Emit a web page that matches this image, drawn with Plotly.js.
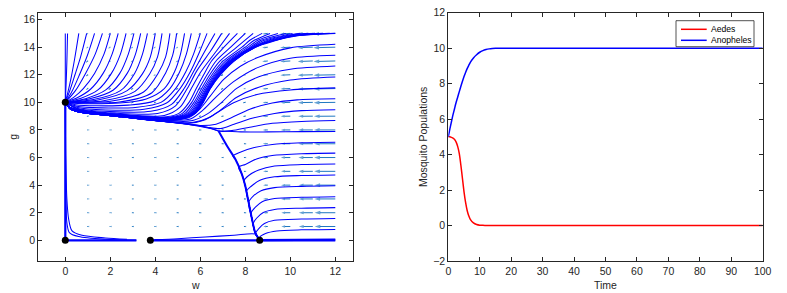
<!DOCTYPE html>
<html><head><meta charset="utf-8">
<script src="https://cdn.plot.ly/plotly-3.0.1.min.js"></script>
<style>html,body{margin:0;padding:0;background:#fff;}#plot{width:787px;height:293px;}</style>
</head><body><div id="plot"></div>
<script>
// ---------------- Phase portrait data (w, g) ----------------
const equilW = [0, 0, 3.78, 8.64];
const equilG = [0, 10, 0, 0];

// top-edge trajectories flowing to (0,10) from above
const familyA = [
  [[0,15],[0,10]],
  [[0.1,15],[0.07,13],[0.04,11.5],[0.01,10.4],[0,10]],
  [[0.6,15],[0.42,13.2],[0.26,11.8],[0.11,10.7],[0,10]],
  [[0.95,15],[0.68,13.3],[0.43,12],[0.2,10.85],[0,10]],
  [[1.3,15],[0.98,13.4],[0.63,12],[0.3,10.8],[0,10]],
  [[1.65,15],[1.33,13.5],[0.9,12.1],[0.45,10.85],[0,10]],
  [[2.0,15],[1.72,13.5],[1.3,12.1],[0.8,11],[0.4,10.4],[0,10]],
  [[2.35,15],[2.08,13.5],[1.68,12.1],[1.12,10.95],[0.55,10.35],[0,10]],
  [[2.7,15],[2.45,13.5],[2.05,12.1],[1.45,10.9],[0.7,10.3],[0,10]],
  [[3.05,15],[2.8,13.5],[2.42,12.1],[1.8,10.9],[0.9,10.27],[0,10]],
  [[3.35,15],[3.12,13.5],[2.75,12.1],[2.12,10.88],[1.05,10.24],[0,10]],
  [[3.65,15],[3.43,13.5],[3.08,12.1],[2.45,10.85],[1.25,10.2],[0,10]],
  [[4.0,15],[3.78,13.3],[3.42,12.05],[2.75,10.85],[1.45,10.17],[0,10]],
  [[4.3,15],[4.1,13.3],[3.75,12.05],[3.1,10.8],[1.7,10.12],[0,10]],
  [[4.65,15],[4.46,13.3],[4.12,12.1],[3.48,10.75],[2.0,10.08],[0.5,10.0],[0,10]],
  [[4.95,15],[4.77,13.4],[4.45,12.1],[3.85,10.7],[2.4,10.02],[0.6,9.97],[0,10]]
];
// diagonal top-edge trajectories (left of the S bundle)
const familyDiag = [
  [[5.3,15],[5.12,13.5],[4.85,12.2],[4.4,11],[3.6,10.25],[2.4,9.95],[1.2,9.9],[0.4,9.93],[0,10]],
  [[5.6,15],[5.38,13.5],[5.08,12.2],[4.65,11],[3.95,10.1],[2.8,9.8],[1.4,9.75],[0.45,9.83],[0,10]],
  [[6.0,15],[5.7,13.5],[5.35,12.2],[4.9,11],[4.25,10.0],[3.2,9.65],[1.6,9.6],[0.5,9.72],[0,10]],
  [[6.3,15],[5.95,13.6],[5.55,12.2],[5.1,11],[4.5,9.95],[3.5,9.5],[1.8,9.45],[0.55,9.62],[0,10]],
  [[6.65,15],[6.2,13.7],[5.72,12.3],[5.28,11],[4.72,9.85],[3.8,9.35],[2.0,9.33],[0.6,9.53],[0,10]],
  [[6.95,15],[6.45,13.7],[5.85,12.3],[5.42,11],[4.9,9.75],[4.1,9.2],[2.2,9.22],[0.6,9.5],[0,10]],
  [[7.3,15],[6.75,13.8],[6.02,12.2],[5.6,11],[5.1,9.65],[4.4,9.05],[2.3,9.15],[0.6,9.47],[0,10]]
];
// band tails (lines merging into the slow curve towards (0,10))
const tailHigh = [[3.6,8.95],[2.3,9.12],[1.2,9.3],[0.5,9.47],[0.15,9.68],[0,10]];
const tailMid = [[4.0,8.82],[2.5,9.05],[1.3,9.24],[0.6,9.4],[0.2,9.63],[0,10]];
const tailLow = [[4.2,8.72],[2.5,9.0],[1.3,9.18],[0.6,9.34],[0.2,9.58],[0,10]];
const tailLowest = [[4.2,8.65],[2.5,8.95],[1.3,9.15],[0.6,9.3],[0.2,9.55],[0,10]];
// S-shaped bundle from the top edge
const bundleHigh = [
  [[7.65,15],[7.05,14],[6.5,13],[6.15,12],[5.82,11],[5.5,10],[5.05,9.2],[4.5,8.95]],
  [[8.0,15],[7.35,14],[6.7,13],[6.3,12],[5.95,11],[5.62,10],[5.2,9.2],[4.6,8.92]],
  [[8.35,15],[7.62,14],[6.88,13],[6.42,12],[6.06,11],[5.72,10],[5.32,9.2],[4.7,8.9]]
];
const bundleMid = [
  [[8.75,15],[8.2,14.5],[7.85,14],[7.02,13],[6.52,12],[6.14,11],[5.8,10],[5.42,9.2],[4.75,8.88]],
  [[9.1,15],[8.4,14.5],[8.0,14],[7.13,13],[6.6,12],[6.21,11],[5.87,10],[5.5,9.2],[4.8,8.86]],
  [[9.45,15],[8.55,14.5],[8.12,14],[7.22,13],[6.66,12],[6.27,11],[5.93,10],[5.56,9.2],[4.85,8.85]],
  [[9.8,15],[8.7,14.5],[8.22,14],[7.29,13],[6.71,12],[6.31,11],[5.98,10],[5.61,9.2],[4.9,8.84]],
  [[10.1,15],[8.85,14.5],[8.29,14],[7.34,13],[6.75,12],[6.35,11],[6.02,10],[5.65,9.2],[4.95,8.83]]
];
const bundleLow = [
  [[10.45,15],[9.85,14.85],[9.0,14.5],[8.34,14],[7.38,13],[6.78,12],[6.38,11],[6.05,10],[5.68,9.2],[5.0,8.82]],
  [[10.8,15],[10.0,14.85],[9.12,14.5],[8.38,14],[7.42,13],[6.81,12],[6.4,11],[6.08,10],[5.71,9.2],[5.0,8.8]],
  [[11.1,15],[10.15,14.85],[9.22,14.5],[8.41,14],[7.45,13],[6.84,12],[6.42,11],[6.1,10],[5.73,9.2],[5.05,8.8]],
  [[11.45,15],[10.3,14.85],[9.3,14.5],[8.43,14],[7.47,13],[6.86,12],[6.43,11],[6.11,10],[5.75,9.2],[5.05,8.78]],
  [[11.75,15],[10.4,14.85],[9.35,14.5],[8.44,14],[7.49,13],[6.88,12],[6.44,11],[6.12,10],[5.76,9.2],[5.1,8.78]],
  [[12,15],[10.5,14.87],[10,14.79],[9.4,14.5],[8.45,14],[7.5,13],[6.9,12],[6.45,11],[6.13,10],[5.77,9.2],[5.1,8.76]],
  [[12,14.21],[10,13.95],[8.52,13.23],[7.78,12.62],[7.04,11.66],[6.44,10.45],[6.0,9.55],[5.5,8.9],[4.8,8.74]]
];
// right-edge trajectories above the corner
const rightUpper = [
  [[12,13.42],[10,13.2],[8.52,12.5],[7.48,11.5],[6.74,10.45],[6.15,9.49],[5.56,8.8],[4.6,8.7]],
  [[12,12.63],[10,12.4],[8.6,11.85],[7.6,11.0],[6.95,10.0],[6.35,9.2],[5.7,8.7],[5.0,8.6]],
  [[12,11.84],[10,11.62],[8.6,11.1],[7.6,10.35],[6.95,9.5],[6.4,8.9],[5.7,8.55],[5.0,8.55]],
  [[12,11.05],[10,10.9],[8.52,10.57],[7.48,9.97],[6.74,9.25],[6.15,8.7],[5.5,8.48],[4.9,8.55]],
  [[12,10.26],[10.3,10.18],[9.2,9.95],[8.2,9.5],[7.4,8.9],[6.7,8.42],[6.0,8.32],[5.3,8.46]],
  [[12,9.47],[10.5,9.4],[9.3,9.2],[8.3,8.85],[7.5,8.42],[6.9,8.1],[6.3,8.2],[5.5,8.42]],
  [[12,8.68],[10.5,8.62],[9.2,8.48],[8.2,8.2],[7.4,7.95],[6.9,7.9],[6.5,8.08],[5.5,8.4]]
];
// lower edge of the band leaving the corner, and the corner approach
const bandLowest = [[6.81,7.92],[6.6,8.05],[6.0,8.3],[5.5,8.4]];
const cornerApproach = [[12,7.89],[10.5,7.88],[9,7.86],[7.8,7.86],[6.81,7.92]];
// descending branch from the corner to (8.64, 0)
const branchDown = [[6.81,7.92],[7.19,6.83],[7.56,5.87],[7.85,4.78],[8.0,3.93],[8.15,2.73],[8.3,1.52],[8.44,0.55],[8.64,0]];
// right-edge trajectories below the corner (approach part, then branch)
const rightLower = [
  [[12,7.11],[10.5,7.07],[9.2,6.95],[8.4,6.72],[7.8,6.4],[7.45,6.1]],
  [[12,6.32],[10.5,6.28],[9.2,6.15],[8.5,5.9],[8.0,5.5],[7.7,5.3]],
  [[12,5.53],[10.5,5.49],[9.3,5.38],[8.6,5.1],[8.15,4.7],[7.95,4.35]],
  [[12,4.74],[10.5,4.7],[9.3,4.6],[8.65,4.35],[8.25,3.9],[8.05,3.55]],
  [[12,3.95],[10.5,3.91],[9.3,3.82],[8.7,3.6],[8.35,3.2],[8.15,2.75]],
  [[12,3.16],[10.5,3.12],[9.3,3.03],[8.75,2.8],[8.45,2.4],[8.25,1.95]],
  [[12,2.37],[10.5,2.33],[9.3,2.24],[8.8,2.02],[8.5,1.6],[8.35,1.2]],
  [[12,1.58],[10.5,1.54],[9.3,1.45],[8.85,1.22],[8.6,0.85],[8.45,0.5]],
  [[12,0.79],[10.5,0.76],[9.4,0.68],[8.9,0.5],[8.65,0.25],[8.64,0]]
];
// bottom trajectories
const bottomCurves = [
  [[2.74,0.07],[1.78,0.17],[0.74,0.36],[0.3,0.68],[0.15,1.52],[0.07,3],[0.02,6],[0,10]],
  [[3.16,0],[1.78,0.07],[0.59,0.27],[0.18,0.56],[0.07,1.28],[0.03,3],[0.01,6],[0,10]],
  [[3.95,0.05],[5,0.12],[6.22,0.24],[7.5,0.37],[8.44,0.45],[8.58,0.2],[8.64,0]]
];
const axisLines = [
  [[0,0],[0,10]], [[3.16,0],[0,0]], [[3.78,0],[8.64,0]], [[12,0],[8.64,0]], [[12,0.05],[8.64,0.02]]
];

// quiver grid
const quiverX = [1,2,3,4,5,6,7,8,9,10,11,12];
const quiverY = [1,2,3,4,5,6,7,8,9,10,11,12,13,14,15];
const quiverU = [
  [-0.03,-0.03,-0.04,-0.04,-0.05,-0.05,-0.05,-0.06,-0.20,-0.40,-0.62,-0.92],
  [-0.03,-0.03,-0.04,-0.04,-0.05,-0.05,-0.05,-0.06,-0.20,-0.40,-0.62,-0.92],
  [-0.03,-0.03,-0.04,-0.04,-0.05,-0.05,-0.05,-0.06,-0.21,-0.41,-0.63,-0.93],
  [-0.03,-0.03,-0.04,-0.04,-0.05,-0.05,-0.05,-0.06,-0.21,-0.41,-0.63,-0.93],
  [-0.03,-0.03,-0.04,-0.04,-0.05,-0.05,-0.05,-0.06,-0.21,-0.41,-0.64,-0.94],
  [-0.03,-0.03,-0.04,-0.04,-0.05,-0.05,-0.05,-0.06,-0.22,-0.42,-0.64,-0.94],
  [-0.03,-0.03,-0.04,-0.04,-0.05,-0.05,-0.05,-0.06,-0.22,-0.42,-0.65,-0.95],
  [-0.03,-0.03,-0.04,-0.04,-0.05,-0.05,-0.05,-0.07,-0.22,-0.42,-0.65,-0.95],
  [-0.04,-0.04,-0.05,-0.05,-0.06,-0.06,-0.06,-0.08,-0.23,-0.43,-0.65,-0.95],
  [-0.05,-0.05,-0.06,-0.06,-0.07,-0.07,-0.07,-0.09,-0.23,-0.43,-0.66,-0.96],
  [-0.06,-0.07,-0.08,-0.08,-0.08,-0.08,-0.08,-0.10,-0.24,-0.44,-0.66,-0.96],
  [-0.07,-0.08,-0.09,-0.09,-0.09,-0.09,-0.09,-0.10,-0.24,-0.44,-0.67,-0.97],
  [-0.07,-0.09,-0.10,-0.10,-0.10,-0.10,-0.09,-0.10,-0.25,-0.45,-0.67,-0.97],
  [-0.08,-0.10,-0.11,-0.11,-0.11,-0.10,-0.09,-0.11,-0.25,-0.45,-0.68,-0.98],
  [-0.08,-0.10,-0.11,-0.12,-0.11,-0.10,-0.09,-0.11,-0.25,-0.46,-0.68,-0.98]
];
const quiverV = [
  [0,0,0,0,0,0,0,0,0,0,0,0],
  [0,0,0,0,0,0,0,0,0,0,0,0],
  [0,0,0,0,0,0,0,0,0,0,0,0],
  [0,0,0,0,0,0,0,0,0,0,0,0],
  [0,0,0,0,0,0,0,0,0,0,0,0],
  [0,0,0,0,0,0,0,0,0,0,0,0],
  [0,0,0,0,0,0,0,0,0,0,0,0],
  [0,0,0,0,0,0,0,0,0,0,0,0],
  [-0.02,-0.02,-0.02,-0.02,-0.02,-0.02,-0.02,-0.02,-0.01,-0.01,-0.01,-0.01],
  [-0.04,-0.04,-0.04,-0.04,-0.04,-0.04,-0.04,-0.03,-0.02,-0.02,-0.02,-0.02],
  [-0.06,-0.06,-0.06,-0.06,-0.06,-0.06,-0.06,-0.04,-0.03,-0.03,-0.03,-0.03],
  [-0.08,-0.08,-0.08,-0.08,-0.08,-0.08,-0.07,-0.05,-0.03,-0.03,-0.03,-0.03],
  [-0.09,-0.09,-0.09,-0.09,-0.09,-0.09,-0.08,-0.05,-0.04,-0.04,-0.04,-0.04],
  [-0.10,-0.10,-0.10,-0.10,-0.10,-0.10,-0.09,-0.06,-0.04,-0.04,-0.04,-0.04],
  [-0.10,-0.11,-0.11,-0.11,-0.11,-0.10,-0.09,-0.06,-0.04,-0.04,-0.04,-0.04]
];

// ---------------- Time series data ----------------
const timeT = [0,0.5,1,1.5,2,2.5,3,3.5,4,4.5,5,5.5,6,6.5,7,8,9,10,11,12,13,14,15,17,20,30,40,50,60,70,80,90,100];
const aedes = [5.0,5.0,4.97,4.93,4.85,4.7,4.45,4.05,3.4,2.65,1.9,1.3,0.85,0.55,0.35,0.15,0.06,0.02,0.01,0,0,0,0,0,0,0,0,0,0,0,0,0,0];
const anopheles = [5.0,5.45,5.85,6.25,6.6,6.95,7.25,7.55,7.85,8.13,8.4,8.63,8.85,9.03,9.2,9.45,9.63,9.77,9.86,9.92,9.96,9.98,9.99,10,10,10,10,10,10,10,10,10,10];
const seriesNames = ['Aedes', 'Anopheles'];
const seriesColors = ['#ff0000', '#0000ff'];

// ---------------- build traces ----------------
function toXY(lines){const x=[],y=[];lines.forEach(l=>{l.forEach(p=>{x.push(p[0]);y.push(p[1]);});x.push(null);y.push(null);});return {x,y};}
function withBranch(line){const lastG=line[line.length-1][1];return line.concat(branchDown.filter(p=>p[1]<lastG-0.05));}

const trajLines = [].concat(
  familyA, familyDiag,
  bundleHigh.map(l=>l.concat(tailHigh)),
  bundleMid.map(l=>l.concat(tailMid)),
  bundleLow.map(l=>l.concat(tailLow)),
  rightUpper.map(l=>l.concat(tailLowest)),
  [bandLowest.concat(tailLowest)],
  [cornerApproach],
  rightLower.map(withBranch),
  bottomCurves
);
const tr = toXY(trajLines);
const ax = toXY(axisLines);
const br = toXY([branchDown]);

// quiver segments
const W = 787, H = 293;
const xDom = [38.3/W, 353.3/W], yDom = [(H-261)/H, (H-12.7)/H];
const xRange = [-1.2, 12.8], yRange = [-1.5, 16.5];
const pxPerW = (xDom[1]-xDom[0])*W/(xRange[1]-xRange[0]);
const pxPerG = (yDom[1]-yDom[0])*H/(yRange[1]-yRange[0]);
const qx=[], qy=[], qs=[];
quiverY.forEach((gy,i)=>{quiverX.forEach((wx,j)=>{
  const u=quiverU[i][j], v=quiverV[i][j];
  qx.push(wx, wx+u, null); qy.push(gy, gy+v, null);
  const L=Math.hypot(u*pxPerW, v*pxPerG);
  qs.push(0, Math.min(6, 2+L*0.22), 0);
});});

const FONT = 'Liberation Sans, Arial, Helvetica, sans-serif';
const AXC = '#262626';
const traces = [
  {type:'scatter', mode:'lines+markers', x:qx, y:qy, xaxis:'x', yaxis:'y', showlegend:false, hoverinfo:'skip',
   line:{color:'#1f78c1', width:1}, marker:{symbol:'arrow', angleref:'previous', size:qs, color:'#1f78c1', line:{width:0}}},
  {type:'scatter', mode:'lines', x:tr.x, y:tr.y, xaxis:'x', yaxis:'y', showlegend:false, hoverinfo:'skip',
   line:{color:'#0000ff', width:1.05, shape:'spline', smoothing:0.8}},
  {type:'scatter', mode:'lines', x:br.x, y:br.y, xaxis:'x', yaxis:'y', showlegend:false, hoverinfo:'skip',
   line:{color:'#0000ff', width:2, shape:'spline', smoothing:0.6}},
  {type:'scatter', mode:'lines', x:ax.x, y:ax.y, xaxis:'x', yaxis:'y', showlegend:false, hoverinfo:'skip',
   line:{color:'#0000ff', width:2.2}},
  {type:'scatter', mode:'markers', x:equilW, y:equilG, xaxis:'x', yaxis:'y', showlegend:false,
   marker:{color:'#000000', size:7}},
  {type:'scatter', mode:'lines', name:seriesNames[0], x:timeT, y:aedes, xaxis:'x2', yaxis:'y2', showlegend:false,
   line:{color:seriesColors[0], width:1.5, shape:'spline', smoothing:0.6}},
  {type:'scatter', mode:'lines', name:seriesNames[1], x:timeT, y:anopheles, xaxis:'x2', yaxis:'y2', showlegend:false,
   line:{color:seriesColors[1], width:1.5, shape:'spline', smoothing:0.6}}
];

// hand-made compact legend (paper coordinates)
const lg = {x0:676/W, x1:754/W, y0:1-46.7/H, y1:1-20.7/H, lx0:681/W, lx1:706.7/W, tx:709.5/W, rows:[1-29.3/H, 1-40.3/H]};
const shapes = [
  {type:'rect', xref:'paper', yref:'paper', x0:lg.x0, x1:lg.x1, y0:lg.y0, y1:lg.y1, line:{color:AXC, width:0.8}, fillcolor:'#ffffff', layer:'above'}
];
const annotations = [];
seriesNames.forEach((nm,i)=>{
  shapes.push({type:'line', xref:'paper', yref:'paper', x0:lg.lx0, x1:lg.lx1, y0:lg.rows[i], y1:lg.rows[i], line:{color:seriesColors[i], width:1.5}, layer:'above'});
  annotations.push({xref:'paper', yref:'paper', x:lg.tx, y:lg.rows[i], xanchor:'left', yanchor:'middle', showarrow:false,
    text:nm, borderpad:0, font:{family:FONT, size:8.6, color:'#000000'}});
});

const axBase = {showline:true, linecolor:AXC, linewidth:1, mirror:'ticks', ticks:'inside', ticklen:4, tickcolor:AXC,
  tickfont:{family:FONT, size:10.5, color:AXC}, showgrid:false, zeroline:false, automargin:false, fixedrange:true};
const layout = {
  width:W, height:H, margin:{l:0,r:0,t:0,b:0}, paper_bgcolor:'#ffffff', plot_bgcolor:'#ffffff',
  font:{family:FONT, color:AXC}, showlegend:false, shapes:shapes, annotations:annotations,
  xaxis:Object.assign({}, axBase, {domain:xDom, range:xRange, tickvals:[0,2,4,6,8,10,12], anchor:'y',
    title:{text:'w', font:{family:FONT,size:10.5,color:AXC}, standoff:6}}),
  yaxis:Object.assign({}, axBase, {domain:yDom, range:yRange, tickvals:[0,2,4,6,8,10,12,14,16], anchor:'x',
    title:{text:'g', font:{family:FONT,size:10.5,color:AXC}, standoff:3}}),
  xaxis2:Object.assign({}, axBase, {domain:[448.3/W, 762.7/W], range:[0,100], tickvals:[0,10,20,30,40,50,60,70,80,90,100], anchor:'y2',
    title:{text:'Time', font:{family:FONT,size:10.5,color:AXC}, standoff:6}}),
  yaxis2:Object.assign({}, axBase, {domain:yDom, range:[-2,12], tickvals:[-2,0,2,4,6,8,10,12], anchor:'x2',
    title:{text:'Mosquito Populations', font:{family:FONT,size:10.5,color:AXC}, standoff:3}})
};
Plotly.newPlot('plot', traces, layout, {staticPlot:true, displayModeBar:false});
</script></body></html>
